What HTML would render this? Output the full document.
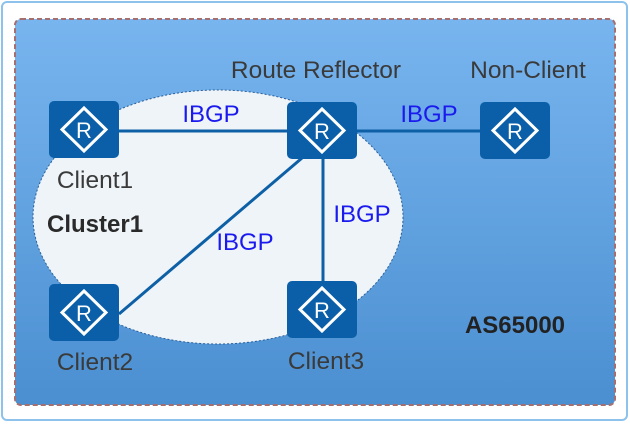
<!DOCTYPE html>
<html><head><meta charset="utf-8"><style>
html,body{margin:0;padding:0;background:#fff;}
</style></head><body>
<svg width="630" height="424" viewBox="0 0 630 424" xmlns="http://www.w3.org/2000/svg" font-family="Liberation Sans, sans-serif">
<defs>
<linearGradient id="bg" x1="0" y1="0" x2="0" y2="1">
<stop offset="0" stop-color="#78b5ef"/><stop offset="1" stop-color="#4b8fd1"/>
</linearGradient>
<g id="r">
<rect x="0" y="0" width="70" height="57" rx="5" fill="#0a5fa8"/>
<polygon points="35,7 57,28.5 35,50 13,28.5" fill="none" stroke="#fff" stroke-width="3"/>
<text x="35" y="37" font-size="22" fill="#fff" text-anchor="middle">R</text>
</g>
</defs>
<rect x="2" y="2" width="625" height="418" rx="5" fill="#fff" stroke="#8cc2ec" stroke-width="2"/>
<rect x="15" y="19" width="600" height="386" rx="6" fill="url(#bg)" stroke="#a66f6f" stroke-width="2" stroke-dasharray="5,3"/>
<ellipse cx="218" cy="217" rx="185" ry="127" fill="#eef4f8" stroke="#2a5f9a" stroke-width="1" stroke-dasharray="2,2"/>
<g stroke="#0d5fa6" stroke-width="3">
<line x1="119" y1="131" x2="287" y2="131"/>
<line x1="357" y1="131" x2="480" y2="131"/>
<line x1="323" y1="158" x2="323" y2="281"/>
<line x1="119" y1="314" x2="302" y2="158"/>
</g>
<use href="#r" x="49" y="101"/>
<use href="#r" x="287" y="102"/>
<use href="#r" x="480" y="102"/>
<use href="#r" x="49" y="284"/>
<use href="#r" x="287" y="281"/>
<g font-size="24.5" fill="#3a3a3a" text-anchor="middle">
<text x="95" y="188">Client1</text>
<text x="316" y="78">Route Reflector</text>
<text x="528" y="78">Non-Client</text>
<text x="95" y="370">Client2</text>
<text x="326" y="369">Client3</text>
</g>
<text x="47" y="232" font-size="24" font-weight="bold" fill="#2a2a2a">Cluster1</text>
<text x="515" y="333" font-size="24" font-weight="bold" fill="#222" text-anchor="middle">AS65000</text>
<g font-size="24" fill="#1a1aee" text-anchor="middle">
<text x="211" y="122">IBGP</text>
<text x="429" y="122">IBGP</text>
<text x="362" y="222">IBGP</text>
<text x="245" y="250">IBGP</text>
</g>
</svg>
</body></html>
